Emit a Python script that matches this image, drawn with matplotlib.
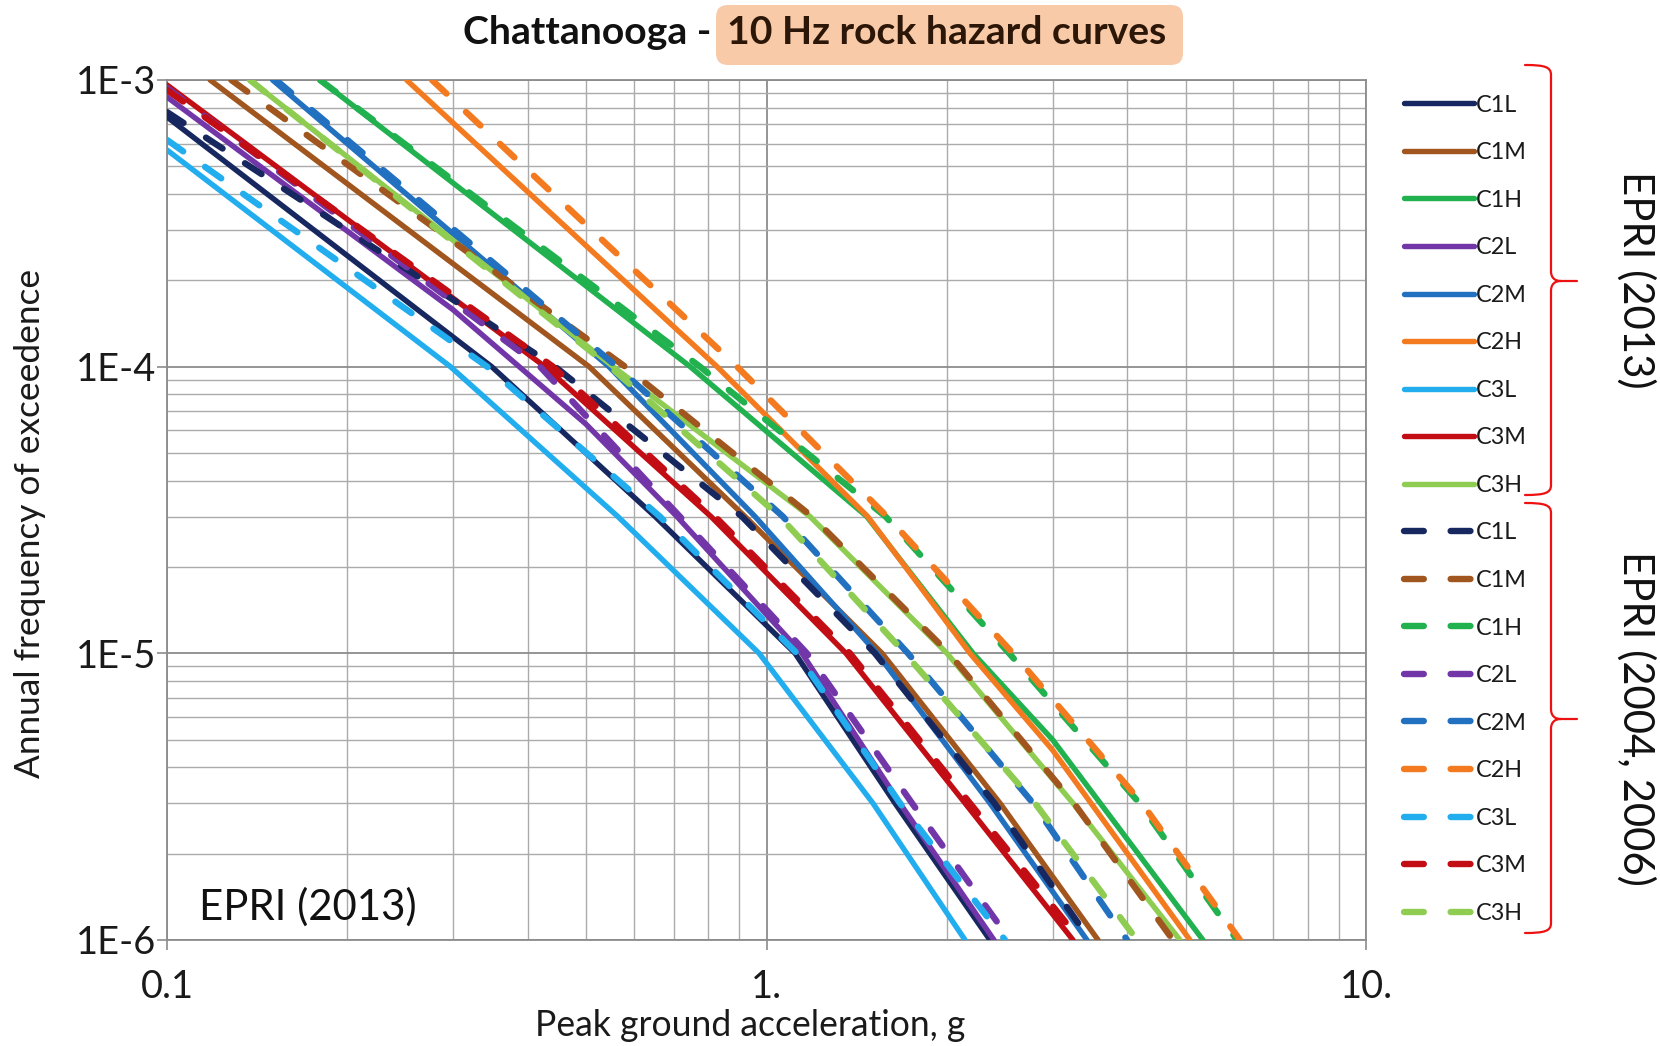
import matplotlib
matplotlib.use('Agg')
import matplotlib.pyplot as plt
from matplotlib.path import Path
from matplotlib.patches import PathPatch, FancyBboxPatch
from matplotlib.ticker import FixedLocator, FixedFormatter, NullFormatter, LogLocator
from matplotlib.transforms import IdentityTransform

plt.rcParams['font.family'] = ['Lato', 'DejaVu Sans']

W, H, DPI = 1660, 1046, 100

# ---------------- data ----------------
series_names = ['C1L', 'C1M', 'C1H', 'C2L', 'C2M', 'C2H', 'C3L', 'C3M', 'C3H']
series_colors = ['#17275f', '#a0561e', '#21b14f', '#7236a8', '#2270c0',
                 '#f47a20', '#22aeee', '#c30d14', '#8fcd52']

hazard_levels = [1e-4, 3e-5, 1e-5, 3e-6, 1e-6]

# EPRI (2013) curves (solid): PGA (g) and annual frequency of exceedance
C1L_2013_x = [0.100, 0.348, 0.652, 1.116, 1.638, 2.359]
C1L_2013_y = [7.43e-4] + hazard_levels
C1M_2013_x = [0.118, 0.506, 0.921, 1.559, 2.452, 3.573]
C1M_2013_y = [1e-3] + hazard_levels
C1H_2013_x = [0.180, 0.746, 1.470, 2.211, 3.000, 5.346]
C1H_2013_y = [1e-3, 1e-4, 3e-5, 1e-5, 5.0e-6, 1e-6]
C2L_2013_x = [0.100, 0.300, 0.500, 0.709, 1.146, 1.669, 2.396]
C2L_2013_y = [8.72e-4, 1.58e-4, 6.3e-5, 3e-5, 1e-5, 3e-6, 1e-6]
C2M_2013_x = [0.150, 0.546, 0.957, 1.529, 2.359, 3.424]
C2M_2013_y = [1e-3] + hazard_levels
C2H_2013_x = [0.251, 0.827, 1.475, 2.185, 3.000, 5.085]
C2H_2013_y = [1e-3, 1e-4, 3e-5, 1e-5, 4.6e-6, 1e-6]
C3L_2013_x = [0.100, 0.297, 0.565, 0.972, 1.505, 2.144]
C3L_2013_y = [5.70e-4] + hazard_levels
C3M_2013_x = [0.100, 0.427, 0.808, 1.357, 2.144, 3.245]
C3M_2013_y = [9.61e-4] + hazard_levels
C3H_2013_x = [0.1375, 0.555, 1.182, 2.000, 3.245, 4.894]
C3H_2013_y = [1e-3] + hazard_levels

# EPRI (2004, 2006) curves (dashed)
C1L_2004_x = [0.100, 0.444, 0.910, 1.517, 2.400, 3.464]
C1L_2004_y = [7.73e-4] + hazard_levels
C1M_2004_x = [0.128, 0.581, 1.191, 2.016, 3.258, 4.764]
C1M_2004_y = [1e-3] + hazard_levels
C1H_2004_x = [0.180, 0.7745, 1.580, 2.540, 4.190, 6.093]
C1H_2004_y = [1e-3] + hazard_levels
C2L_2004_x = [0.100, 0.419, 0.717, 1.168, 1.749, 2.548]
C2L_2004_y = [9.38e-4] + hazard_levels
C2M_2004_x = [0.152, 0.563, 1.065, 1.722, 2.784, 3.994]
C2M_2004_y = [1e-3] + hazard_levels
C2H_2004_x = [0.2767, 0.893, 1.589, 2.577, 4.231, 6.163]
C2H_2004_y = [1e-3] + hazard_levels
C3L_2004_x = [0.100, 0.342, 0.664, 1.124, 1.670, 2.500]
C3L_2004_y = [6.18e-4] + hazard_levels
C3M_2004_x = [0.100, 0.4405, 0.821, 1.378, 2.185, 3.333]
C3M_2004_y = [9.23e-4] + hazard_levels
C3H_2004_x = [0.1375, 0.548, 1.053, 1.702, 2.805, 4.150]
C3H_2004_y = [1e-3] + hazard_levels

x_ticks = [0.1, 1, 10]
x_tick_labels = ['0.1', '1.', '10.']
y_ticks = [1e-6, 1e-5, 1e-4, 1e-3]
y_tick_labels = ['1E-6', '1E-5', '1E-4', '1E-3']

title_left = 'Chattanooga -'
title_right = '10 Hz rock hazard curves'
x_label = 'Peak ground acceleration, g'
y_label = 'Annual frequency of exceedence'
inner_note = 'EPRI (2013)'
group1_label = 'EPRI (2013)'
group2_label = 'EPRI (2004, 2006)'

curves_2013 = [(C1L_2013_x, C1L_2013_y), (C1M_2013_x, C1M_2013_y), (C1H_2013_x, C1H_2013_y),
               (C2L_2013_x, C2L_2013_y), (C2M_2013_x, C2M_2013_y), (C2H_2013_x, C2H_2013_y),
               (C3L_2013_x, C3L_2013_y), (C3M_2013_x, C3M_2013_y), (C3H_2013_x, C3H_2013_y)]
curves_2004 = [(C1L_2004_x, C1L_2004_y), (C1M_2004_x, C1M_2004_y), (C1H_2004_x, C1H_2004_y),
               (C2L_2004_x, C2L_2004_y), (C2M_2004_x, C2M_2004_y), (C2H_2004_x, C2H_2004_y),
               (C3L_2004_x, C3L_2004_y), (C3M_2004_x, C3M_2004_y), (C3H_2004_x, C3H_2004_y)]

# ---------------- layout helpers (pixel coords from top-left) ----------------
def fx(x):
    return x / W

def fy(y):
    return 1 - y / H

fig = plt.figure(figsize=(W / DPI, H / DPI), dpi=DPI)
fig.patch.set_facecolor('white')
ax_left, ax_right, ax_top, ax_bot = 167, 1366, 80, 940
ax = fig.add_axes([fx(ax_left), fy(ax_bot), (ax_right - ax_left) / W, (ax_bot - ax_top) / H])

SOLID_LW = 3.9
DASH_LW = 4.6
lines = []
for (xs, ys), name, col in zip(curves_2013, series_names, series_colors):
    ln, = ax.plot(xs, ys, color=col, lw=SOLID_LW, solid_capstyle='round',
                  solid_joinstyle='round', label=name, zorder=3)
    lines.append(ln)
for (xs, ys), name, col in zip(curves_2004, series_names, series_colors):
    ln, = ax.plot(xs, ys, color=col, lw=DASH_LW, linestyle=(0, (3.1, 4.2)),
                  dash_capstyle='round', dash_joinstyle='round', label=name, zorder=4)
    lines.append(ln)

ax.set_xscale('log')
ax.set_yscale('log')
ax.set_xlim(0.1, 10)
ax.set_ylim(1e-6, 1e-3)
ax.xaxis.set_major_locator(FixedLocator(x_ticks))
ax.xaxis.set_major_formatter(FixedFormatter(x_tick_labels))
ax.yaxis.set_major_locator(FixedLocator(y_ticks))
ax.yaxis.set_major_formatter(FixedFormatter(y_tick_labels))
ax.xaxis.set_minor_locator(LogLocator(base=10, subs=range(2, 10), numticks=20))
ax.yaxis.set_minor_locator(LogLocator(base=10, subs=range(2, 10), numticks=20))
ax.xaxis.set_minor_formatter(NullFormatter())
ax.yaxis.set_minor_formatter(NullFormatter())
ax.grid(which='major', color='#8c8c8c', lw=1.3, zorder=0)
ax.grid(which='minor', color='#ababab', lw=1.0, zorder=0)
ax.set_axisbelow(True)
for s in ax.spines.values():
    s.set_color('#8c8c8c')
    s.set_linewidth(1.3)
ax.tick_params(which='minor', length=0)
ax.tick_params(which='major', length=7, width=1.2, color='#8c8c8c', labelcolor='#1a1a1a')
ax.tick_params(axis='y', pad=1)
ax.tick_params(axis='x', pad=14)

# texts
t_right = fig.text(fx(727), fy(33), title_right, ha='left', va='center',
                   fontsize=22, fontweight='bold', color='#2b1608', zorder=5)
t_left = fig.text(fx(711), fy(33), title_left, ha='right', va='center',
                  fontsize=22, fontweight='bold', color='#111111', zorder=5)
t_xl = fig.text(fx(750), fy(1025), x_label, ha='center', va='center', fontsize=20, color='#1a1a1a')
t_yl = fig.text(fx(30), fy(523), y_label, ha='center', va='center', rotation=90,
                fontsize=20, color='#1a1a1a')
t_in = fig.text(fx(199), fy(907), inner_note, ha='left', va='center', fontsize=24, color='#111111')
t_g1 = fig.text(fx(1636), fy(280), group1_label, ha='center', va='center', rotation=270,
                fontsize=24, color='#111111')
t_g2 = fig.text(fx(1636), fy(718), group2_label, ha='center', va='center', rotation=270,
                fontsize=24, color='#111111')

fig.canvas.draw()
r = fig.canvas.get_renderer()

def fit_w(t, target):
    w = t.get_window_extent(r).width
    t.set_fontsize(t.get_fontsize() * target / w)

def fit_h(t, target):
    h = t.get_window_extent(r).height
    t.set_fontsize(t.get_fontsize() * target / h)

fit_w(t_right, 438)
t_left.set_fontsize(t_right.get_fontsize())
fit_w(t_xl, 431)
fit_h(t_yl, 510)
fit_w(t_in, 218)
fit_h(t_g1, 218)
t_g2.set_fontsize(t_g1.get_fontsize())

# tick label size: "1E-4" about 80 px wide
lab = ax.get_yticklabels()[2]
ws = lab.get_window_extent(r).width
tick_fs = lab.get_fontsize() * 80 / ws
ax.tick_params(labelsize=tick_fs)

# title highlight box
box = FancyBboxPatch((716, H - 65), 1183 - 716, 60,
                     boxstyle='round,pad=0,rounding_size=12',
                     transform=IdentityTransform(), facecolor='#f8caa8',
                     edgecolor='none', zorder=1)
fig.patches.append(box)

# legend
probe = fig.text(0, 0, 'C1L', fontsize=10)
pw = probe.get_window_extent(r).width
leg_fs = 10 * 41 / pw
probe.remove()
F_px = leg_fs * DPI / 72.0

def make_legend(ls, top):
    return ax.legend(handles=lines, loc='upper left', bbox_to_anchor=(fx(1404), fy(top)),
                     bbox_transform=fig.transFigure, frameon=False, fontsize=leg_fs,
                     handlelength=70 / F_px, handletextpad=2 / F_px, labelspacing=ls,
                     borderpad=0, borderaxespad=0, handleheight=0.7)

ls = 1.0
top = 92
for _ in range(3):
    leg = make_legend(ls, top)
    fig.canvas.draw()
    texts = leg.get_texts()
    c0 = texts[0].get_window_extent(r)
    c1 = texts[-1].get_window_extent(r)
    y0 = H - (c0.y0 + c0.y1) / 2
    y1 = H - (c1.y0 + c1.y1) / 2
    pitch = (y1 - y0) / 17
    ls = ls + (47.55 - pitch) / F_px
    top = top + (105 - y0)
    leg.remove()
leg = make_legend(ls, top)
for t in leg.get_texts():
    t.set_color('#1a1a1a')

# red braces
def brace(x_end, x_v, x_tip, y_top, y_tip, y_bot):
    P = lambda x, y: (fx(x), fy(y))
    verts = [P(x_end, y_top),
             P(x_v - 6, y_top), P(x_v, y_top + 2), P(x_v, y_top + 10),
             P(x_v, y_tip - 10),
             P(x_v, y_tip - 3), P(x_v + 4, y_tip), P(x_v + 10, y_tip),
             P(x_tip, y_tip),
             P(x_v + 10, y_tip),
             P(x_v + 4, y_tip), P(x_v, y_tip + 3), P(x_v, y_tip + 10),
             P(x_v, y_bot - 10),
             P(x_v, y_bot - 2), P(x_v - 6, y_bot), P(x_end, y_bot)]
    codes = [Path.MOVETO,
             Path.CURVE4, Path.CURVE4, Path.CURVE4,
             Path.LINETO,
             Path.CURVE4, Path.CURVE4, Path.CURVE4,
             Path.LINETO,
             Path.MOVETO,
             Path.CURVE4, Path.CURVE4, Path.CURVE4,
             Path.LINETO,
             Path.CURVE4, Path.CURVE4, Path.CURVE4]
    return PathPatch(Path(verts, codes), transform=fig.transFigure, facecolor='none',
                     edgecolor='#ee1111', lw=1.6, capstyle='round')

fig.patches.append(brace(1525, 1551, 1577, 65, 281, 495))
fig.patches.append(brace(1525, 1551, 1577, 503, 719, 933))

fig.savefig('out.png', dpi=DPI, facecolor='white')
